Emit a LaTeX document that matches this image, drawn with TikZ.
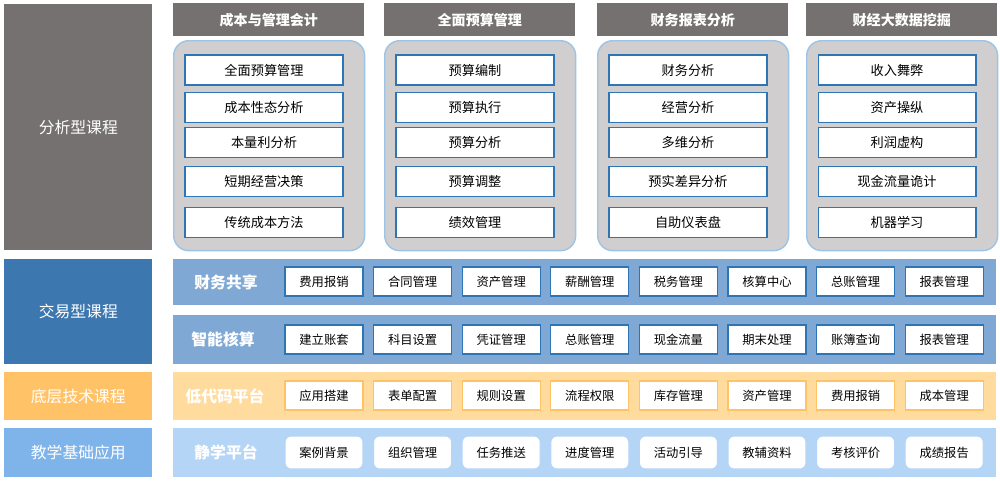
\documentclass[tikz,border=0pt]{standalone}
\usepackage{fontspec}
\setmainfont{Noto Sans CJK SC}
\definecolor{darkg}{HTML}{767171}
\definecolor{panelg}{HTML}{D0CECE}
\definecolor{panelb}{HTML}{9DC3E6}
\definecolor{tradeb}{HTML}{3D77AF}
\definecolor{tradeband}{HTML}{7FA8D4}
\definecolor{boxb}{HTML}{2E75B6}
\definecolor{techo}{HTML}{FFC266}
\definecolor{techband}{HTML}{FFDB9E}
\definecolor{teachb}{HTML}{7EB4EA}
\definecolor{teachband}{HTML}{B4D5F6}
\tikzset{
  side/.style={rectangle, anchor=north west, text=white, font=\fontsize{9}{9}\selectfont},
  head/.style={rectangle, fill=darkg, anchor=north west, minimum width=3.82cm, minimum height=0.66cm, text=white, font=\bfseries\fontsize{8}{8}\selectfont},
  panel/.style={rectangle, rounded corners=0.3cm, fill=panelg, draw=panelb, line width=0.8pt, anchor=north west, minimum width=3.82cm, minimum height=4.2cm},
  item/.style={rectangle, fill=white, draw=boxb, line width=0.6pt, minimum width=3.16cm, minimum height=0.6cm, font=\fontsize{7.5}{7.5}\selectfont},
  band/.style={rectangle, anchor=north west, minimum width=16.46cm},
  blabel/.style={text=white, font=\bfseries\fontsize{9}{9}\selectfont},
  cell/.style={rectangle, fill=white, line width=0.6pt, minimum width=1.56cm, minimum height=0.58cm, font=\fontsize{7}{7}\selectfont}
}
\begin{document}
\begin{tikzpicture}[x=0.02cm, y=-0.02cm]
\useasboundingbox (0,0) rectangle (1000,481);

% left column
\node [side, fill=darkg, minimum width=2.96cm, minimum height=4.92cm] (ana) at (4,4) {};
\node [text=white, font=\fontsize{9}{9}\selectfont] (anat) at (ana.center) {分析型课程};
\node [side, fill=tradeb, minimum width=2.96cm, minimum height=2.1cm] (tra) at (4,259) {};
\node [text=white, font=\fontsize{9}{9}\selectfont] (trat) at (tra.center) {交易型课程};
\node [side, fill=techo, minimum width=2.96cm, minimum height=0.96cm] (tec) at (4,372) {};
\node [text=white, font=\fontsize{9}{9}\selectfont] (tect) at (tec.center) {底层技术课程};
\node [side, fill=teachb, minimum width=2.96cm, minimum height=0.98cm] (tea) at (4,428) {};
\node [text=white, font=\fontsize{9}{9}\selectfont] (teat) at (tea.center) {教学基础应用};

% analysis columns
\foreach \x/\t/\a/\b/\c/\d/\e [count=\i] in {
  173/成本与管理会计/全面预算管理/成本性态分析/本量利分析/短期经营决策/传统成本方法,
  384/全面预算管理/预算编制/预算执行/预算分析/预算调整/绩效管理,
  597/财务报表分析/财务分析/经营分析/多维分析/预实差异分析/自助仪表盘,
  806/财经大数据挖掘/收入舞弊/资产操纵/利润虚构/现金流量诡计/机器学习} {
  \node [head] (h\i) at (\x,3) {\t};
  \node [panel] (p\i) at (\x,40) {};
  \node [item] (i\i a) at (\x+91,70) {\a};
  \node [item] (i\i b) at (\x+91,107.5) {\b};
  \node [item] (i\i c) at (\x+91,142.5) {\c};
  \node [item] (i\i d) at (\x+91,181.5) {\d};
  \node [item] (i\i e) at (\x+91,222.5) {\e};
}

% bands
\node [band, fill=tradeband, minimum height=0.92cm] (b1) at (173,259) {};
\node [band, fill=tradeband, minimum height=0.98cm] (b2) at (173,315) {};
\node [band, fill=techband, minimum height=0.96cm] (b3) at (173,372) {};
\node [band, fill=teachband, minimum height=0.98cm] (b4) at (173,428) {};
\node [blabel] (l1) at (226,282) {财务共享};
\node [blabel] (l2) at (223,339.5) {智能核算};
\node [blabel] (l3) at (225,396) {低代码平台};
\node [blabel] (l4) at (226,452.5) {静学平台};

\foreach \t [count=\i] in {费用报销,合同管理,资产管理,薪酬管理,税务管理,核算中心,总账管理,报表管理}
  \node [cell, draw=boxb] (c1\i) at (285+39+88.6*\i-88.6,281.5) {\t};
\foreach \t [count=\i] in {建立账套,科目设置,凭证管理,总账管理,现金流量,期末处理,账簿查询,报表管理}
  \node [cell, draw=boxb] (c2\i) at (285+39+88.6*\i-88.6,339.5) {\t};
\foreach \t [count=\i] in {应用搭建,表单配置,规则设置,流程权限,库存管理,资产管理,费用报销,成本管理}
  \node [cell, draw=techo] (c3\i) at (285+39+88.6*\i-88.6,395.5) {\t};
\foreach \t [count=\i] in {案例背景,组织管理,任务推送,进度管理,活动引导,教辅资料,考核评价,成绩报告}
  \node [cell, draw=teachband, rounded corners=0.12cm, minimum height=0.66cm] (c4\i) at (285+39+88.6*\i-88.6,452.5) {\t};
\end{tikzpicture}
\end{document}
